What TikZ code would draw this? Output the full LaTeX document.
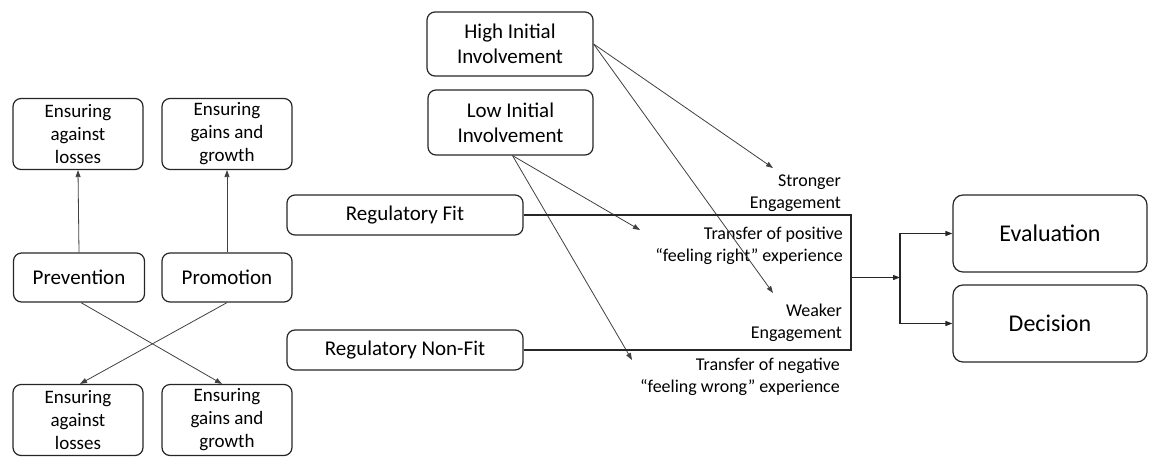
\documentclass[tikz,border=0pt]{standalone}
\usepackage{fontspec}
\setmainfont{Carlito}
\usetikzlibrary{arrows.meta}

\begin{document}
\begin{tikzpicture}[x=1pt,y=-1pt,
		>={Triangle[length=7pt,width=5pt]},
		box/.style={draw=black!85,rounded corners=8pt,line width=1.2pt,align=center,inner sep=1pt},
		small/.style={box,minimum width=130,minimum height=71,font=\fontsize{19}{23}\selectfont},
		link/.style={->,draw=black!75,line width=0.8pt},
		flow/.style={draw=black!85,line width=1.2pt},
		note/.style={align=right,anchor=east,inner sep=0pt,font=\fontsize{18}{22}\selectfont}]
		\useasboundingbox (0,0) rectangle (1149,459);
		\node[small] (againsttop) at (78,134) {Ensuring\\against\\losses};
		\node[small] (gainstop) at (227,134) {Ensuring\\gains and\\growth};
		\node[box,minimum width=131,minimum height=49,font=\fontsize{21}{25}\selectfont] (prevention) at (79,277.5) {Prevention};
		\node[box,minimum width=130,minimum height=49,font=\fontsize{21}{25}\selectfont] (promotion) at (227,277.5) {Promotion};
		\node[small] (againstbot) at (78,420) {Ensuring\\against\\losses};
		\node[small] (gainsbot) at (227,420) {Ensuring\\gains and\\growth};
		\draw[link] (prevention.north) -- (againsttop.south);
		\draw[link] (promotion.north) -- (gainstop.south);
		\draw[link] ([xshift=2]prevention.south) -- ([xshift=-5]gainsbot.north);
		\draw[link] (promotion.south) -- ([xshift=2]againstbot.north);
		\node[box,minimum width=166,minimum height=64,font=\fontsize{21}{25}\selectfont] (high) at (510,44) {High Initial\\Involvement};
		\node[box,minimum width=165,minimum height=65,font=\fontsize{21}{25}\selectfont] (low) at (510.5,122.5) {Low Initial\\Involvement};
		\node[box,minimum width=236,minimum height=40,font=\fontsize{21}{25}\selectfont] (fit) at (405,215) {Regulatory Fit};
		\node[box,minimum width=236,minimum height=40,font=\fontsize{21}{25}\selectfont] (nonfit) at (405,350) {Regulatory Non-Fit};
		\node[box,rounded corners=10pt,minimum width=194,minimum height=77,font=\fontsize{24}{28}\selectfont] (evaluation) at (1050,233.5) {Evaluation};
		\node[box,rounded corners=10pt,minimum width=194,minimum height=77,font=\fontsize{24}{28}\selectfont] (decision) at (1050,323.5) {Decision};
		\node[note] (stronger) at (841,193) {Stronger\\Engagement};
		\node[note] (positive) at (843,245.5) {Transfer of positive\\“feeling right” experience};
		\node[note] (weaker) at (842,322.5) {Weaker\\Engagement};
		\node[note] (negative) at (840,377) {Transfer of negative\\“feeling wrong” experience};
		\coordinate (strongtip) at (773,168);
		\coordinate (weaktip) at (773,293);
		\coordinate (postip) at (640,230);
		\coordinate (negtip) at (632,360);
		\draw[link] (high.east) -- (strongtip);
		\draw[link] (high.east) -- (weaktip);
		\draw[link] ([xshift=2]low.south) -- (postip);
		\draw[link] ([xshift=2]low.south) -- (negtip);
		\coordinate (rtop) at (851,215);
		\coordinate (rbot) at (851,350);
		\coordinate (rmid) at (851,277.5);
		\coordinate (split) at (900,277.5);
		\draw[flow] (fit.east) -- (rtop) -- (rbot) -- (nonfit.east);
		\draw[flow,->] (rmid) -- (split);
		\draw[flow,->] (split) |- (evaluation.west);
		\draw[flow,->] (split) |- (decision.west);
	\end{tikzpicture}
\end{document}
